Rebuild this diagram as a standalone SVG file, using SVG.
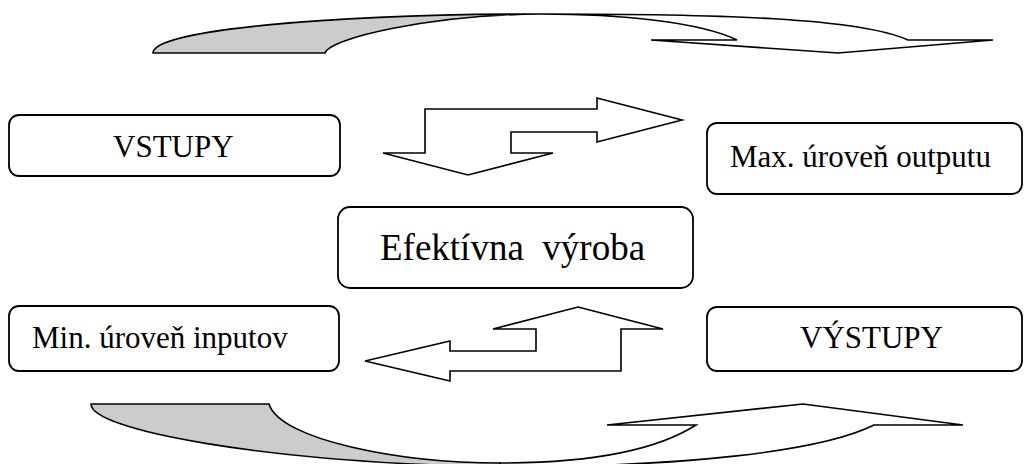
<svg xmlns="http://www.w3.org/2000/svg" width="1031" height="464" viewBox="0 0 1031 464">
<style>
.box{fill:#fff;stroke:#000;stroke-width:1.8}
.lbl{font-family:"Liberation Serif","Times New Roman",serif;font-size:31px;fill:#000}
.big{font-size:37px}
.arr{fill:#fff;stroke:#000;stroke-width:1.6;stroke-linejoin:miter}
.back{fill:#cccccc;stroke:#000;stroke-width:1.6}
</style>
<rect width="1031" height="464" fill="#fff"/>
<g id="connectors">
  <g id="top-curved-arrow">
    <path class="back" d="M153,53 C153,30 330,14 540,14 C430,15 330,38 325,53 Z"/>
    <path class="arr" d="M540,14 C720,14 860,18 908,40 L993,40 L838,53 L651,40 L737,40 C700,22 620,14 540,14 Z"/>
  </g>
  <g id="bottom-curved-arrow">
    <path class="back" d="M91,404 L269,404 C280,440 400,463 500,463 L500,467 C260,462 91,430 91,404 Z"/>
    <path class="arr" d="M500,463 C600,463 660,448 696,425 L607,425 L803,404 L963,425 L874,425 C820,452 680,467 500,467 Z"/>
  </g>
  <polygon id="upper-bent-arrow" class="arr" points="425,109 597,109 597,98 682,120 597,142 597,132 511,132 511,153 553,153 468,175 383,153 425,153"/>
  <polygon id="lower-bent-arrow" class="arr" points="578,307 663,329 621,329 621,371 450,371 450,381 365,361 450,341 450,351 536,351 536,329 493,329"/>
</g>
<g id="vstupy">
  <rect class="box" x="9" y="115" width="331" height="61" rx="10"/>
  <text class="lbl" x="113" y="157">VSTUPY</text>
</g>
<g id="max-output">
  <rect class="box" x="707" y="123" width="315" height="71" rx="10"/>
  <text class="lbl" x="730" y="167">Max. úroveň outputu</text>
</g>
<g id="efektivna">
  <rect class="box" x="338" y="207" width="355" height="81" rx="12"/>
  <text class="lbl big" x="380" y="260" xml:space="preserve">Efektívna  výroba</text>
</g>
<g id="min-input">
  <rect class="box" x="9" y="306" width="330" height="65" rx="10"/>
  <text class="lbl" x="32" y="348">Min. úroveň inputov</text>
</g>
<g id="vystupy">
  <rect class="box" x="707" y="307" width="315" height="64" rx="10"/>
  <text class="lbl" x="800" y="348">VÝSTUPY</text>
</g>
</svg>
